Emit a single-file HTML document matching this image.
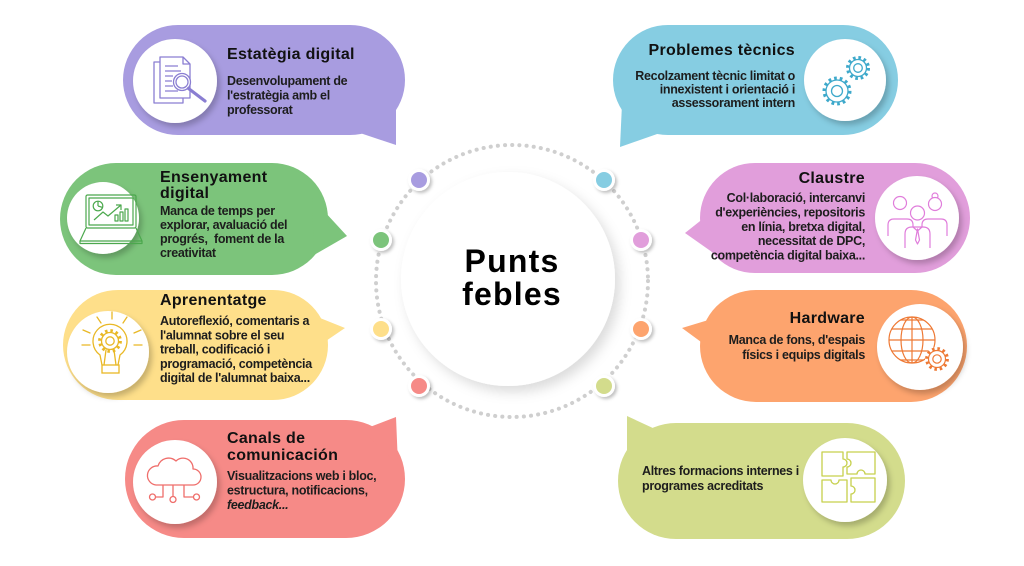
<!DOCTYPE html>
<html><head><meta charset="utf-8"><style>
html,body{margin:0;padding:0;background:#fff;}
svg{display:block;}
text{font-family:"Liberation Sans",Arial,sans-serif;}
.t{font-size:16px;font-weight:bold;fill:#111;letter-spacing:0.3px;}
.b{font-size:12.5px;font-weight:bold;fill:#1d1d1d;letter-spacing:-0.3px;}
</style></head><body>
<svg width="1024" height="566" viewBox="0 0 1024 566" xmlns="http://www.w3.org/2000/svg">
<defs>
<filter id="sh" x="-40%" y="-40%" width="180%" height="180%"><feDropShadow dx="3" dy="4" stdDeviation="3" flood-color="#000" flood-opacity="0.22"/></filter>
<filter id="shc" x="-30%" y="-30%" width="160%" height="160%"><feDropShadow dx="5" dy="6" stdDeviation="6" flood-color="#000" flood-opacity="0.14"/></filter>
<filter id="shd" x="-60%" y="-60%" width="220%" height="220%"><feDropShadow dx="2" dy="2" stdDeviation="1.5" flood-color="#000" flood-opacity="0.25"/></filter>
</defs>
<rect width="1024" height="566" fill="#fff"/>

<!-- cards -->
<g fill="#a89ce0"><rect x="123" y="25" width="282" height="110" rx="55"/><polygon points="360,133 396,145 396,108"/></g>
<g fill="#86cde2"><rect x="613" y="25" width="285" height="110" rx="55"/><polygon points="622,104 620,147 660,133"/></g>
<g fill="#7cc47b"><rect x="60" y="163" width="268" height="112" rx="56"/><polygon points="312,198 347,236 314,255"/></g>
<g fill="#fedf8a"><rect x="63" y="290" width="265" height="110" rx="55"/><polygon points="305,312 345,328 320,345"/></g>
<g fill="#f68a87"><rect x="125" y="420" width="280" height="118" rx="59"/><polygon points="362,430 396,417 398,465"/></g>
<g fill="#e19edb"><rect x="700" y="163" width="270" height="110" rx="55"/><polygon points="714,210 685,233 712,252"/></g>
<g fill="#fda46e"><rect x="700" y="290" width="267" height="112" rx="56"/><polygon points="715,318 682,328 712,350"/></g>
<g fill="#d3dc8c"><rect x="618" y="423" width="287" height="116" rx="58"/><polygon points="627,416 655,429 660,450 627,460"/></g>

<!-- icon circles -->
<g fill="#fff" filter="url(#sh)">
<circle cx="175" cy="81" r="42"/>
<circle cx="845" cy="80" r="41"/>
<circle cx="103" cy="218" r="36"/>
<circle cx="108" cy="352" r="41"/>
<circle cx="175" cy="482" r="42"/>
<circle cx="917" cy="218" r="42"/>
<circle cx="920" cy="347" r="43"/>
<circle cx="845" cy="480" r="42"/>
</g>

<!-- center -->
<circle cx="512" cy="281" r="136" fill="none" stroke="#cfcfcf" stroke-width="4" stroke-linecap="round" stroke-dasharray="0.1 7.1"/>
<circle cx="508" cy="279" r="107" fill="#fff" filter="url(#shc)"/>
<text x="512" y="272" text-anchor="middle" style="font-size:32px;font-weight:bold;fill:#000;letter-spacing:1.2px">Punts</text>
<text x="512" y="305" text-anchor="middle" style="font-size:32px;font-weight:bold;fill:#000;letter-spacing:1.2px">febles</text>

<!-- dots -->
<g fill="#fff" filter="url(#shd)">
<circle cx="419" cy="180" r="11"/><circle cx="604" cy="180" r="11"/>
<circle cx="381" cy="240" r="11"/><circle cx="641" cy="240" r="11"/>
<circle cx="381" cy="329" r="11"/><circle cx="641" cy="329" r="11"/>
<circle cx="419" cy="386" r="11"/><circle cx="604" cy="386" r="11"/>
</g>
<circle cx="419" cy="180" r="8" fill="#a89ce0"/><circle cx="604" cy="180" r="8" fill="#86cde2"/>
<circle cx="381" cy="240" r="8" fill="#7cc47b"/><circle cx="641" cy="240" r="8" fill="#e19edb"/>
<circle cx="381" cy="329" r="8" fill="#fedf8a"/><circle cx="641" cy="329" r="8" fill="#fda46e"/>
<circle cx="419" cy="386" r="8" fill="#f68a87"/><circle cx="604" cy="386" r="8" fill="#d3dc8c"/>

<!-- icon 1 purple -->
<g fill="none" stroke="#8a7ed2" stroke-width="1.3" stroke-linejoin="round">
<rect x="154" y="62" width="29" height="41" fill="#fff"/>
<path d="M160 57 H183 L190 64 V98 H160 Z" fill="#fff"/>
<path d="M183 57 V64 H190"/>
<path d="M165 66 H178 M165 71 H181 M165 76 H173 M165 81 H172 M165 86 H173 M165 91 H178"/>
<circle cx="182" cy="82" r="8.5" fill="#fff"/><circle cx="182" cy="82" r="6"/>
<path d="M188.5 88.5 L205 101" stroke-width="3.2" stroke-linecap="round"/>
</g>

<!-- icon 2 cyan gears -->
<g fill="none" stroke="#3ea9cb">
<circle cx="858" cy="68" r="8.5" stroke-width="1.3"/>
<circle cx="858" cy="68" r="10.3" stroke-width="3.4" stroke-dasharray="2.6 2.8"/>
<circle cx="858" cy="68" r="4.3" stroke-width="1.3"/>
<circle cx="837" cy="91" r="11" stroke-width="1.3" fill="#fff"/>
<circle cx="837" cy="91" r="12.8" stroke-width="3.4" stroke-dasharray="2.7 3"/>
<circle cx="837" cy="91" r="5.5" stroke-width="1.3"/>
</g>

<!-- icon 3 green laptop -->
<g fill="none" stroke="#4ba84d" stroke-width="1.2" stroke-linejoin="round">
<rect x="86" y="195" width="50" height="33" rx="1.5"/>
<rect x="89" y="198" width="44" height="27"/>
<path d="M86 228 L80 241 H142 L136 228"/>
<path d="M80 241 V243.5 H142 V241"/>
<circle cx="98" cy="206" r="4.8"/><path d="M98 206 V201.2 M98 206 L102.6 207.4"/>
<path d="M94 220 L103 212 L108 216 L121 205"/><path d="M116 205 H121 V210"/>
<rect x="115" y="215" width="3" height="6"/><rect x="120" y="212" width="3" height="9"/><rect x="125" y="209" width="3" height="12"/>
</g>

<!-- icon 4 yellow bulb -->
<g fill="none" stroke="#e9b825" stroke-width="1.3" stroke-linecap="round">
<path d="M112 312 V319 M97 317 L101 323 M127 317 L123 323 M83 330 L90 333 M141 330 L134 333 M82 345 H90 M134 345 H142"/>
<path d="M102 365 L100 355 A17 17 0 1 1 120 355 L118 365"/>
<rect x="102" y="365" width="17" height="8"/>
<circle cx="110" cy="341" r="8.5"/>
<circle cx="110" cy="341" r="10.3" stroke-width="3.2" stroke-dasharray="2.5 2.9" stroke-linecap="butt"/>
<circle cx="110" cy="341" r="4.2"/>
<path d="M106 350 L104 365 M114 350 L116 365"/>
</g>

<!-- icon 5 red cloud -->
<g fill="none" stroke="#ef6e6b" stroke-width="1.3" stroke-linejoin="round">
<path d="M156 485 H193 A8 8 0 0 0 193 469 A10 10 0 0 0 176 461 A11 11 0 0 0 158 466 A9.5 9.5 0 0 0 156 485 Z"/>
<path d="M163 485 V497 H155.5 M173 485 V496.5 M184 485 V497 H193.5"/>
<circle cx="152.5" cy="497" r="3"/><circle cx="173" cy="499.5" r="3"/><circle cx="196.5" cy="497" r="3"/>
</g>

<!-- icon 6 pink people -->
<g fill="#fff" stroke="#e07ddb" stroke-width="1.2" stroke-linejoin="round">
<path d="M888 236 V225 Q888 219 894 219 H907 Q913 219 913 225 V236"/>
<circle cx="900" cy="203" r="6.5"/>
<path d="M922 236 V225 Q922 219 928 219 H941 Q947 219 947 225 V236"/>
<circle cx="935" cy="196" r="3"/>
<circle cx="935" cy="204" r="6.5"/>
<path d="M905 248 V234 Q905 227 912 227 H923 Q930 227 930 234 V248"/>
<circle cx="917.5" cy="213" r="7"/>
<path d="M917.5 229 L915.5 240 L917.5 244 L919.5 240 Z" fill="none"/>
<path d="M913 227 L917.5 231 L922 227" fill="none"/>
</g>

<!-- icon 7 orange globe -->
<g fill="none" stroke="#ee7934" stroke-width="1.2">
<circle cx="912" cy="340" r="23"/>
<ellipse cx="912" cy="340" rx="11" ry="23"/>
<path d="M912 317 V363 M889 340 H935 M892 329 H932 M892 351 H932 M900.6 320 H923.4 M900.6 360 H923.4"/>
<circle cx="937" cy="359" r="12" fill="#fff" stroke="none"/>
<circle cx="937" cy="359" r="8.5"/>
<circle cx="937" cy="359" r="10.3" stroke-width="3.2" stroke-dasharray="2.5 2.9"/>
<circle cx="937" cy="359" r="4.2"/>
</g>

<!-- icon 8 lime puzzle -->
<g fill="none" stroke="#c6d04c" stroke-width="1.3" stroke-linejoin="round">
<path d="M822 452 H843 V459 A4 4 0 1 1 843 467 V476 H822 Z"/>
<path d="M847 452 H875 V474 H865 A4 4 0 1 0 857 474 H847 V467 A4 4 0 1 0 847 459 Z"/>
<path d="M822 480 H831 A4 4 0 1 0 839 480 H847 V502 H822 Z"/>
<path d="M851 478 H875 V502 H851 V494 A4 4 0 1 0 851 486 Z"/>
</g>

<!-- texts card 1 -->
<text class="t" x="227" y="59">Estatègia digital</text>
<text class="b" x="227" y="85">Desenvolupament de</text>
<text class="b" x="227" y="99.5">l'estratègia amb el</text>
<text class="b" x="227" y="114">professorat</text>

<!-- card 2 -->
<text class="t" x="795" y="55" text-anchor="end">Problemes tècnics</text>
<text class="b" x="795" y="80" text-anchor="end">Recolzament tècnic limitat o</text>
<text class="b" x="795" y="93.5" text-anchor="end">innexistent i orientació i</text>
<text class="b" x="795" y="107" text-anchor="end">assessorament intern</text>

<!-- card 3 -->
<text class="t" x="160" y="182">Ensenyament</text>
<text class="t" x="160" y="198">digital</text>
<text class="b" x="160" y="215">Manca de temps per</text>
<text class="b" x="160" y="229">explorar, avaluació del</text>
<text class="b" x="160" y="243" xml:space="preserve">progrés,  foment de la</text>
<text class="b" x="160" y="257">creativitat</text>

<!-- card 4 -->
<text class="t" x="160" y="305">Aprenentatge</text>
<text class="b" x="160" y="325">Autoreflexió, comentaris a</text>
<text class="b" x="160" y="339.3">l'alumnat sobre el seu</text>
<text class="b" x="160" y="353.6">treball, codificació i</text>
<text class="b" x="160" y="367.9">programació, competència</text>
<text class="b" x="160" y="382.2">digital de l'alumnat baixa...</text>

<!-- card 5 -->
<text class="t" x="227" y="443">Canals de</text>
<text class="t" x="227" y="460">comunicación</text>
<text class="b" x="227" y="480">Visualitzacions web i bloc,</text>
<text class="b" x="227" y="494.5">estructura, notificacions,</text>
<text class="b" x="227" y="509" font-style="italic">feedback...</text>

<!-- card 6 -->
<text class="t" x="865" y="183" text-anchor="end">Claustre</text>
<text class="b" x="865" y="202" text-anchor="end">Col·laboració, intercanvi</text>
<text class="b" x="865" y="216.5" text-anchor="end">d'experiències, repositoris</text>
<text class="b" x="865" y="230.8" text-anchor="end">en línia, bretxa digital,</text>
<text class="b" x="865" y="245" text-anchor="end">necessitat de DPC,</text>
<text class="b" x="865" y="259.3" text-anchor="end">competència digital baixa...</text>

<!-- card 7 -->
<text class="t" x="865" y="323" text-anchor="end">Hardware</text>
<text class="b" x="865" y="344" text-anchor="end">Manca de fons, d'espais</text>
<text class="b" x="865" y="359" text-anchor="end">físics i equips digitals</text>

<!-- card 8 -->
<text class="b" x="642" y="475">Altres formacions internes i</text>
<text class="b" x="642" y="490">programes acreditats</text>
</svg>
</body></html>
